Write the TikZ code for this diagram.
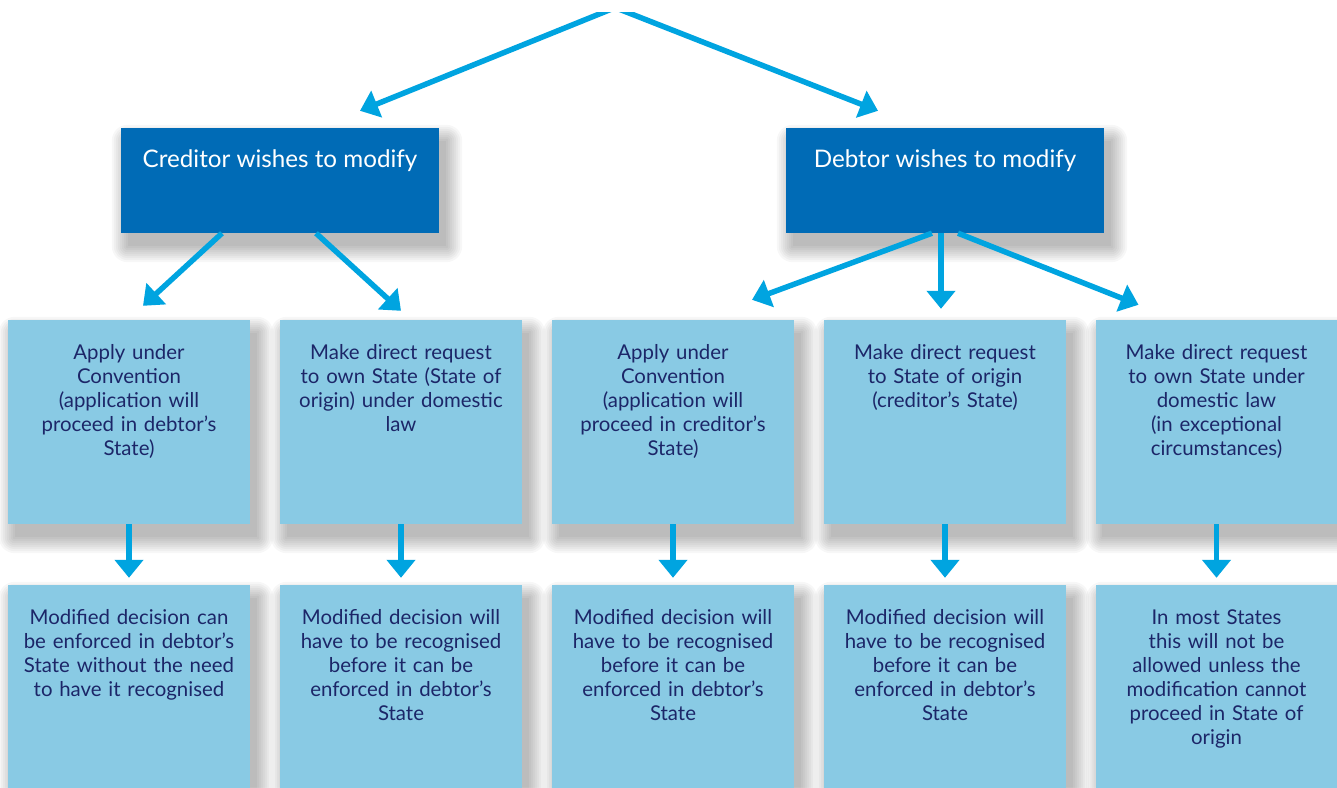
\documentclass[tikz,border=0pt]{standalone}
\usepackage{fontspec}
\setmainfont{Lato}
\usetikzlibrary{arrows.meta}
\pgfdeclarelayer{background}
\pgfsetlayers{background,main}
\definecolor{darkbox}{RGB}{0,107,182}
\definecolor{lightbox}{RGB}{137,202,228}
\definecolor{arrowc}{RGB}{0,164,224}
\definecolor{navy}{RGB}{28,38,104}
\tikzset{
  dbox/.style={fill=darkbox,draw=none,minimum width=318pt,minimum height=105pt,inner sep=0pt},
  lbox/.style={fill=lightbox,draw=none,minimum width=242pt,minimum height=204pt,inner sep=0pt},
  dtext/.style={text=white,font=\fontsize{24.2}{29}\selectfont,inner sep=0pt,anchor=base},
  ltext/.style={text=navy,font=\fontsize{20.4}{24}\selectfont,text width=240pt,align=center,inner sep=0pt,anchor=base},
  arr/.style={draw=arrowc,line width=5.5pt,-{Triangle[width=28pt,length=18pt]}},
  shadowlayer/.style={fill=black,opacity=0.032},
}
\newcommand\dropsh[1]{%
  \begin{pgfonlayer}{background}
  \foreach \r in {0,2,...,16} {
    \fill[shadowlayer,rounded corners={\r*1pt}]
      ([xshift={(7-\r)*1pt},yshift={(-13-\r)*1pt}]#1.south west) rectangle
      ([xshift={(7+\r)*1pt},yshift={(-13+\r)*1pt}]#1.north east);
  }
  \end{pgfonlayer}}
\begin{document}
\begin{tikzpicture}[x=1pt,y=-1pt]
\useasboundingbox (0,0) rectangle (1337,787);
\begin{pgfonlayer}{background}
\fill[white] (0,0) rectangle (1337,787);
\end{pgfonlayer}
\begin{scope}
\clip (0,12) rectangle (1337,787);
% dark boxes
\node[dbox] (cred) at (280,180.5) {};
\node[dbox] (deb) at (945,180.5) {};
\node[dtext] (credt) at ([yshift=-40pt]cred.north) {Creditor wishes to modify};
\node[dtext] (debt) at ([yshift=-40pt]deb.north) {Debtor wishes to modify};
% row 1
\node[lbox] (a1) at (129,422) {};
\node[lbox] (a2) at (401,422) {};
\node[lbox] (a3) at (673,422) {};
\node[lbox] (a4) at (945,422) {};
\node[lbox] (a5) at (1216.5,422) {};
% row 2
\node[lbox] (b1) at (129,687) {};
\node[lbox] (b2) at (401,687) {};
\node[lbox] (b3) at (673,687) {};
\node[lbox] (b4) at (945,687) {};
\node[lbox] (b5) at (1216.5,687) {};
\dropsh{cred}\dropsh{deb}
\dropsh{a1}\dropsh{a2}\dropsh{a3}\dropsh{a4}\dropsh{a5}
\dropsh{b1}\dropsh{b2}\dropsh{b3}\dropsh{b4}\dropsh{b5}
% texts row 1
\node[ltext] (ta1) at ([yshift=-40pt]a1.north) {Apply under\\Convention\\(application will\\proceed in debtor’s\\State)};
\node[ltext] (ta2) at ([yshift=-40pt]a2.north) {Make direct request\\to own State (State of\\origin) under domestic\\law};
\node[ltext] (ta3) at ([yshift=-40pt]a3.north) {Apply under\\Convention\\(application will\\proceed in creditor’s\\State)};
\node[ltext] (ta4) at ([yshift=-40pt]a4.north) {Make direct request\\to State of origin\\(creditor’s State)};
\node[ltext] (ta5) at ([yshift=-40pt]a5.north) {Make direct request\\to own State under\\domestic law\\(in exceptional\\circumstances)};
% texts row 2
\node[ltext] (tb1) at ([yshift=-40pt]b1.north) {Modified decision can\\be enforced in debtor’s\\State without the need\\to have it recognised};
\node[ltext] (tb2) at ([yshift=-40pt]b2.north) {Modified decision will\\have to be recognised\\before it can be\\enforced in debtor’s\\State};
\node[ltext] (tb3) at ([yshift=-40pt]b3.north) {Modified decision will\\have to be recognised\\before it can be\\enforced in debtor’s\\State};
\node[ltext] (tb4) at ([yshift=-40pt]b4.north) {Modified decision will\\have to be recognised\\before it can be\\enforced in debtor’s\\State};
\node[ltext] (tb5) at ([yshift=-40pt]b5.north) {In most States\\this will not be\\allowed unless the\\modification cannot\\proceed in State of\\origin};
% top arrows
\coordinate (tl) at (624,4);
\coordinate (tr) at (606,4);
\draw[arr] (tl) -- ([xshift=80pt,yshift=17pt]cred.north);
\draw[arr] (tr) -- ([xshift=-67pt,yshift=17pt]deb.north);
% creditor arrows
\draw[arr] ([xshift=-58pt]cred.south) -- ([xshift=14pt,yshift=14pt]a1.north);
\draw[arr] ([xshift=36pt]cred.south) -- ([yshift=9pt]a2.north);
% debtor arrows
\draw[arr] ([xshift=-13pt]deb.south) -- ([xshift=79pt,yshift=20pt]a3.north);
\draw[arr] ([xshift=-4pt]deb.south) -- ([xshift=-4pt,yshift=11pt]a4.north);
\draw[arr] ([xshift=13pt]deb.south) -- ([xshift=-78pt,yshift=15pt]a5.north);
% down arrows
\draw[arr] (a1.south) -- ([yshift=7pt]b1.north);
\draw[arr] (a2.south) -- ([yshift=7pt]b2.north);
\draw[arr] (a3.south) -- ([yshift=7pt]b3.north);
\draw[arr] (a4.south) -- ([yshift=7pt]b4.north);
\draw[arr] (a5.south) -- ([yshift=7pt]b5.north);
\end{scope}
\end{tikzpicture}
\end{document}
